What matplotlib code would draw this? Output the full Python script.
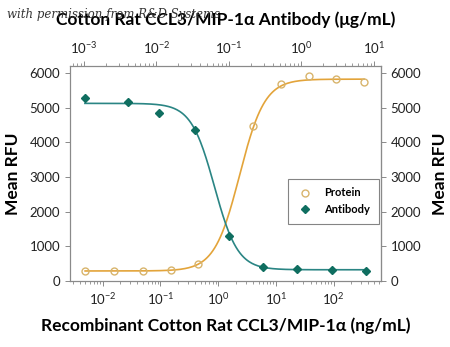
import matplotlib
matplotlib.use("Agg")

import matplotlib.pyplot as plt
import numpy as np

# protein dose (ng/mL, bottom axis) and response
protein_dose = [0.00495, 0.0159, 0.0494, 0.15, 0.449, 4.06, 12.3, 37.0, 111.0, 336.0]
protein_rfu = [289, 272, 272, 310, 483, 4484, 5690, 5921, 5834, 5739]

# antibody dose (ug/mL, top axis) and response
antibody_dose = [0.00103, 0.004, 0.0109, 0.0337, 0.1, 0.297, 0.875, 2.61, 7.69]
antibody_rfu = [5276, 5178, 4860, 4351, 1293, 405, 330, 310, 289]

# 4PL fit parameters: bottom, top, mid, hill
protein_fit = (285, 5830, 2.35, 2.0)
antibody_fit = (320, 5130, 0.063, 2.7)

yticks = [0, 1000, 2000, 3000, 4000, 5000, 6000]

PROT_LINE = "#E3A43A"
PROT_MARK = "#D8B46C"
AB_LINE = "#2A8584"
AB_MARK = "#0F6E60"
GRAY = "#8A8A8A"

plt.rcParams["font.family"] = ["Lato", "DejaVu Sans"]
plt.rcParams["mathtext.fontset"] = "custom"
plt.rcParams["mathtext.rm"] = "Lato"
plt.rcParams["mathtext.it"] = "Lato"


def four_pl(x, p):
    bot, top, mid, hill = p
    return bot + (top - bot) / (1.0 + (mid / x) ** hill)


fig = plt.figure(figsize=(4.5, 3.47), dpi=100)
ax = fig.add_axes([70 / 450, 1 - 281 / 347, 311 / 450, 215 / 347])

ax.set_xscale("log")
ax.set_xlim(10 ** -2.567, 10 ** 2.82)
ax.set_ylim(-5, 6210)

xs = np.logspace(np.log10(protein_dose[0]), np.log10(protein_dose[-1]), 300)
ax.plot(xs, four_pl(xs, protein_fit), color=PROT_LINE, lw=1.2, zorder=2)
prot_h, = ax.plot(protein_dose, protein_rfu, linestyle="none", marker="o", ms=5,
                  mfc="none", mec=PROT_MARK, mew=1.0, label="Protein", zorder=3)

top = ax.twiny()
top.set_xscale("log")
top.set_xlim(10 ** -3.193, 10 ** 1.097)
xa = np.logspace(np.log10(antibody_dose[0]), np.log10(antibody_dose[-1]), 300)
top.plot(xa, four_pl(xa, (antibody_fit[1], antibody_fit[0], antibody_fit[2], antibody_fit[3])),
         color=AB_LINE, lw=1.2, zorder=2)
ab_h, = top.plot(antibody_dose, antibody_rfu, linestyle="none", marker="D", ms=4.5,
                 color=AB_MARK, label="Antibody", zorder=4)

ax.set_yticks(yticks)
right = ax.secondary_yaxis("right")
right.set_yticks(yticks)

for a in (ax, top, right):
    for s in a.spines.values():
        s.set_color(GRAY)
        s.set_linewidth(0.8)
    a.tick_params(which="major", direction="out", length=3.5, width=0.7,
                  color=GRAY, labelsize=9.5, labelcolor="#222222")
    a.tick_params(which="minor", direction="out", length=2, width=0.6, color=GRAY)

ax.set_xlabel("Recombinant Cotton Rat CCL3/MIP-1α (ng/mL)",
              fontsize=12.5, fontweight="bold", labelpad=8)
top.set_xlabel("Cotton Rat CCL3/MIP-1α Antibody (μg/mL)",
               fontsize=12.5, fontweight="bold", labelpad=11)
ax.set_ylabel("Mean RFU", fontsize=12.5, fontweight="bold", labelpad=6)
right.set_ylabel("Mean RFU", fontsize=12.5, fontweight="bold", labelpad=8)

leg = ax.legend([prot_h, ab_h], ["Protein", "Antibody"], loc="upper left",
                bbox_to_anchor=(212 / 311, (281 - 173) / 215),
                frameon=True, fancybox=False, edgecolor="#666666",
                borderpad=0.8, handletextpad=1.0, handlelength=1.5,
                labelspacing=0.5, prop={"weight": "bold", "size": 8})
leg.get_frame().set_linewidth(0.8)

fig.text(0.015, 0.957, "with permission from R&D Systems", fontsize=8.5,
         style="italic", family=["DejaVu Serif"], color="#333333", va="center")

fig.savefig("out.png", dpi=100)
